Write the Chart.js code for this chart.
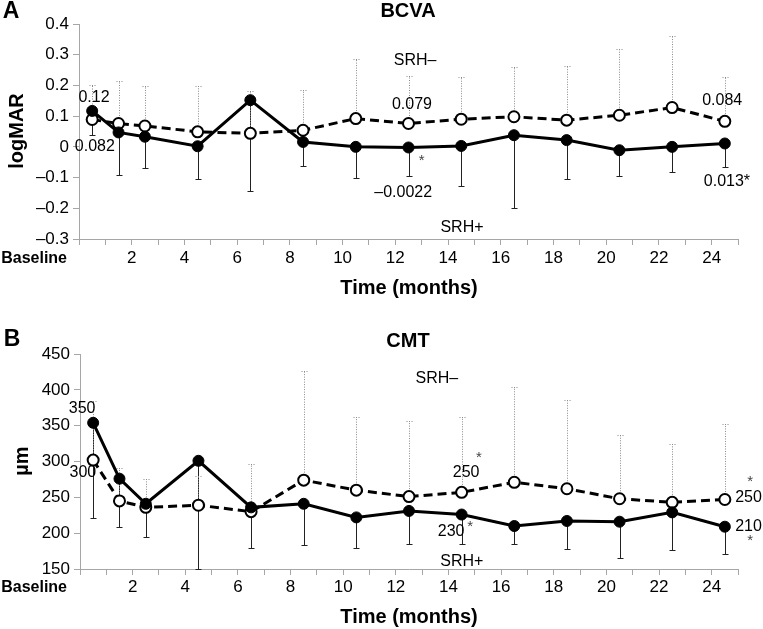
<!DOCTYPE html>
<html><head><meta charset="utf-8">
<script src="https://cdn.jsdelivr.net/npm/chart.js@4/dist/chart.umd.min.js"></script>
<style>
html,body{margin:0;padding:0;background:#fff;}
#wrap{position:relative;width:763px;height:629px;overflow:hidden;}
canvas{position:absolute;left:0;}
</style></head><body>
<div id="wrap">
<canvas id="cA" width="763" height="314" style="top:0;width:763px;height:314px"></canvas>
<canvas id="cB" width="763" height="315" style="top:314px;width:763px;height:315px"></canvas>
</div>
<script>
// ---------- DATA ----------
const months = [0.5, 1.5, 2.5, 4.5, 6.5, 8.5, 10.5, 12.5, 14.5, 16.5, 18.5, 20.5, 22.5, 24.5];
const labelledMonths = [2, 4, 6, 8, 10, 12, 14, 16, 18, 20, 22, 24];
const baselineLabel = 'Baseline';

// Panel A: BCVA (logMAR)
const bcvaSRHplus      = [0.117, 0.047, 0.033, 0.002, 0.152, 0.016, 0.000, -0.002, 0.003, 0.038, 0.022, -0.011, 0.000, 0.011];
const bcvaSRHplusLow   = [0.038, -0.090, -0.068, -0.106, -0.144, -0.063, -0.103, -0.095, -0.127, -0.200, -0.105, -0.095, -0.083, -0.067];
const bcvaSRHminus     = [0.089, 0.076, 0.068, 0.049, 0.044, 0.054, 0.092, 0.076, 0.090, 0.098, 0.087, 0.103, 0.128, 0.083];
const bcvaSRHminusHigh = [0.201, 0.216, 0.197, 0.199, 0.182, 0.184, 0.286, 0.231, 0.229, 0.260, 0.263, 0.317, 0.361, 0.229];

// Panel B: CMT (µm)
const cmtSRHplus      = [354, 276, 241, 301, 236, 241, 222, 231, 226, 210, 217, 216, 229, 209];
const cmtSRHplusLow   = [221, 209, 194, 150, 179, 184, 179, 185, 185, 185, 178, 166, 176, 171];
const cmtSRHminus     = [302, 245, 236, 239, 230, 274, 260, 251, 257, 271, 262, 248, 243, 247];
const cmtSRHminusHigh = [385, 291, 275, 280, 297, 426, 362, 357, 362, 404, 386, 337, 324, 352];

const seriesNames = ['SRH+', 'SRH–'];

// ---------- STYLE / LAYOUT ----------
const FONT = '"Liberation Sans", Arial, Helvetica, sans-serif';
const AXIS_GREY = '#a6a6a6';

const annotationsA = [
  {x: 0.57, y: 0.162, t: '0.12'},
  {x: 0.60, y: 0.002, t: '0.082'},
  {x: 12.75, y: 0.282, t: 'SRH–'},
  {x: 12.63, y: 0.139, t: '0.079'},
  {x: 13.0, y: -0.047, t: '*', star: true},
  {x: 12.3, y: -0.148, t: '–0.0022'},
  {x: 14.53, y: -0.262, t: 'SRH+'},
  {x: 24.4, y: 0.149, t: '0.084'},
  {x: 24.58, y: -0.112, t: '0.013*'}
];
const annotationsB = [
  {x: 0.08, y: 373.7, t: '350'},
  {x: 0.11, y: 284.4, t: '300'},
  {x: 13.56, y: 415.5, t: 'SRH–'},
  {x: 14.67, y: 284.4, t: '250'},
  {x: 15.16, y: 305.3, t: '*', star: true},
  {x: 14.10, y: 202, t: '230'},
  {x: 14.82, y: 209, t: '*', star: true},
  {x: 14.51, y: 160.2, t: 'SRH+'},
  {x: 25.4, y: 249.6, t: '250'},
  {x: 25.46, y: 271.8, t: '*', star: true},
  {x: 25.4, y: 209, t: '210'},
  {x: 25.46, y: 189.5, t: '*', star: true}
];

const frameA = {letter: ['A', 11, 12], title: ['BCVA', 408, 11], ytitle: ['logMAR', 17, 131], xtitle: ['Time (months)', 409, 288], baseline: [67, 259]};
const frameB = {letter: ['B', 12, 26], title: ['CMT', 408, 27], ytitle: ['µm', 22, 147], xtitle: ['Time (months)', 409, 303], baseline: [67, 274]};

function fmtA(v) { const r = Math.round(v * 10) / 10; return r < 0 ? '–' + Math.abs(r) : String(r); }
function fmtB(v) { return String(Math.round(v)); }

const errorBarPlugin = {
  id: 'errorBars',
  beforeDatasetsDraw(chart, args, opts) {
    const ctx = chart.ctx, xs = chart.scales.x, ys = chart.scales.y;
    ctx.save();
    opts.bars.forEach(b => {
      ctx.strokeStyle = b.color;
      ctx.lineWidth = 1;
      ctx.setLineDash(b.dash || []);
      for (let i = 0; i < months.length; i++) {
        const x = Math.round(xs.getPixelForValue(months[i])) + 0.5;
        const y1 = ys.getPixelForValue(b.values[i]);
        const y2 = Math.round(ys.getPixelForValue(b.ends[i])) + 0.5;
        ctx.beginPath();
        ctx.moveTo(x, y1); ctx.lineTo(x, y2);
        ctx.stroke();
        ctx.beginPath();
        ctx.moveTo(x - 3, y2); ctx.lineTo(x + 3, y2);
        ctx.stroke();
      }
    });
    ctx.restore();
  }
};

const textPlugin = {
  id: 'texts',
  afterDraw(chart, args, opts) {
    const ctx = chart.ctx, xs = chart.scales.x, ys = chart.scales.y;
    const f = opts.frame;
    ctx.save();
    ctx.fillStyle = '#000';
    ctx.textBaseline = 'middle';
    ctx.textAlign = 'center';
    ctx.font = 'bold 23px ' + FONT;
    ctx.fillText(f.letter[0], f.letter[1], f.letter[2]);
    ctx.font = 'bold 20px ' + FONT;
    ctx.fillText(f.title[0], f.title[1], f.title[2]);
    ctx.fillText(f.xtitle[0], f.xtitle[1], f.xtitle[2]);
    ctx.save();
    ctx.translate(f.ytitle[1], f.ytitle[2]);
    ctx.rotate(-Math.PI / 2);
    ctx.fillText(f.ytitle[0], 0, 0);
    ctx.restore();
    ctx.font = 'bold 16px ' + FONT;
    ctx.textAlign = 'right';
    ctx.fillText(baselineLabel, f.baseline[0], f.baseline[1]);
    ctx.textAlign = 'center';
    opts.annotations.forEach(a => {
      if (a.star) { ctx.font = '15px ' + FONT; ctx.fillStyle = '#444'; }
      else { ctx.font = '16px ' + FONT; ctx.fillStyle = '#000'; }
      ctx.fillText(a.t, xs.getPixelForValue(a.x), ys.getPixelForValue(a.y));
    });
    ctx.restore();
  }
};

function makeChart(id, plus, plusLow, minus, minusHigh, yMin, yMax, yStep, fmt, layout, annotations, frame) {
  return new Chart(document.getElementById(id), {
    type: 'line',
    data: {
      datasets: [
        {
          label: seriesNames[0],
          data: months.map((m, i) => ({x: m, y: plus[i]})),
          borderColor: '#000', borderWidth: 3, tension: 0,
          pointRadius: 5.5, pointBackgroundColor: '#000', pointBorderColor: '#000', pointBorderWidth: 1
        },
        {
          label: seriesNames[1],
          data: months.map((m, i) => ({x: m, y: minus[i]})),
          borderColor: '#000', borderWidth: 3, borderDash: [9, 5], tension: 0,
          pointRadius: 5.5, pointBackgroundColor: '#fff', pointBorderColor: '#000', pointBorderWidth: 2
        }
      ]
    },
    options: {
      responsive: false,
      animation: false,
      devicePixelRatio: 1,
      layout: {padding: layout.padding},
      plugins: {
        legend: {display: false},
        tooltip: {enabled: false},
        errorBars: {bars: [
          {values: plus, ends: plusLow, color: '#222', dash: []},
          {values: minus, ends: minusHigh, color: '#8a8a8a', dash: [1, 1.5]}
        ]},
        texts: {annotations: annotations, frame: frame}
      },
      scales: {
        x: {
          type: 'linear', min: 0, max: 25,
          afterFit: s => { s.height = layout.xh; s.paddingLeft = 0; s.paddingRight = 0; },
          ticks: {
            stepSize: 1, autoSkip: false, maxRotation: 0, padding: layout.xpad,
            color: '#000', font: {family: FONT, size: 17},
            callback: v => labelledMonths.includes(v) ? String(v) : ''
          },
          grid: {display: true, drawOnChartArea: false, drawTicks: true, tickLength: 6, color: AXIS_GREY},
          border: {display: true, color: AXIS_GREY, width: 1}
        },
        y: {
          type: 'linear', min: yMin, max: yMax,
          afterFit: s => { s.width = layout.yw; s.paddingTop = 0; s.paddingBottom = 0; },
          ticks: {stepSize: yStep, padding: 4, color: '#000', font: {family: FONT, size: 17}, callback: fmt},
          grid: {display: true, drawOnChartArea: false, drawTicks: true, tickLength: 6, color: AXIS_GREY},
          border: {display: true, color: AXIS_GREY, width: 1}
        }
      }
    },
    plugins: [errorBarPlugin, textPlugin]
  });
}

makeChart('cA', bcvaSRHplus, bcvaSRHplusLow, bcvaSRHminus, bcvaSRHminusHigh, -0.3, 0.4, 0.1, fmtA,
  {padding: {left: 0, right: 25, top: 24, bottom: 35}, yw: 79, xh: 40, xpad: 3}, annotationsA, frameA);
makeChart('cB', cmtSRHplus, cmtSRHplusLow, cmtSRHminus, cmtSRHminusHigh, 150, 450, 50, fmtB,
  {padding: {left: 0, right: 25, top: 40, bottom: 20}, yw: 80, xh: 40, xpad: 2}, annotationsB, frameB);
</script>
</body></html>
